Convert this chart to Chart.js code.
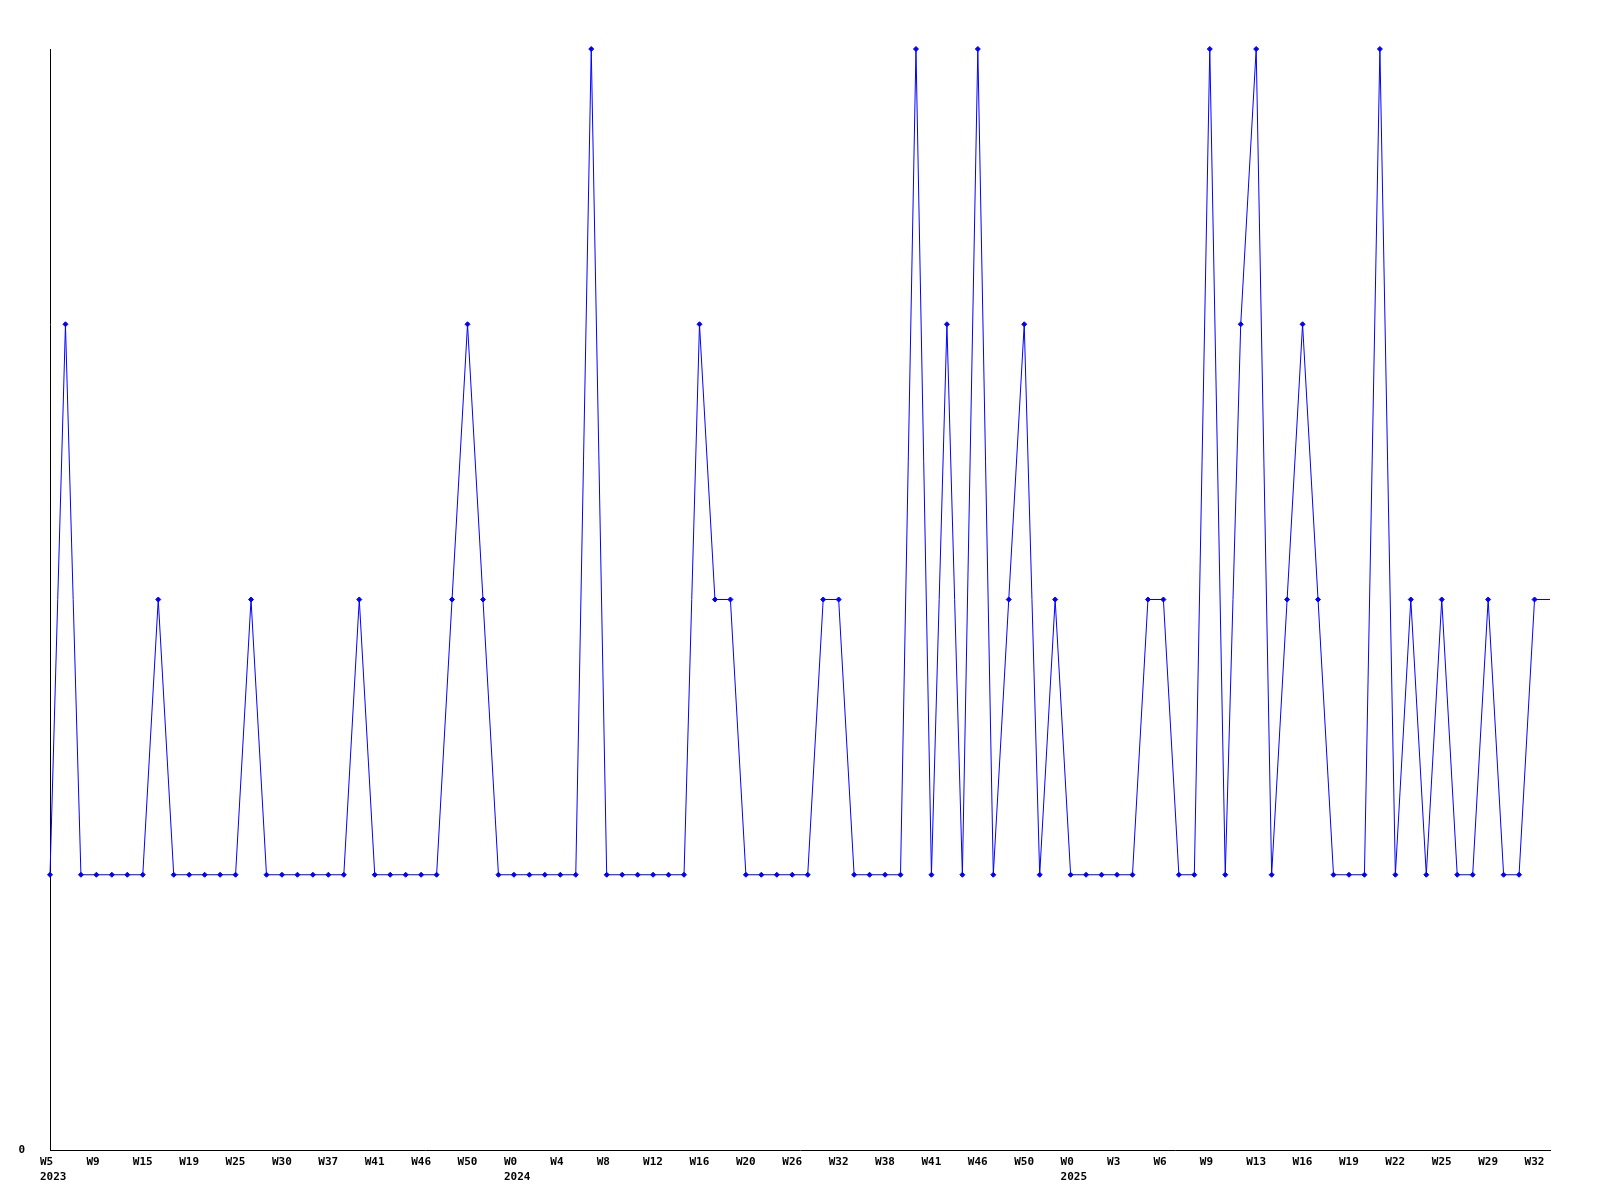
<!DOCTYPE html>
<html>
<head>
<meta charset="utf-8">
<title>Weekly count</title>
<script src="https://cdn.jsdelivr.net/npm/chart.js@4"></script>
<style>
  html, body { margin: 0; padding: 0; background: #fff; }
  #wrap { width: 1600px; height: 1200px; }
</style>
</head>
<body>
<div id="wrap"><canvas id="chart"></canvas></div>
<script>
// Tick labels, one every 3rd point
const weekTicks = ['W5', 'W9', 'W15', 'W19', 'W25', 'W30', 'W37', 'W41', 'W46', 'W50',
                   'W0', 'W4', 'W8', 'W12', 'W16', 'W20', 'W26', 'W32', 'W38', 'W41',
                   'W46', 'W50', 'W0', 'W3', 'W6', 'W9', 'W13', 'W16', 'W19', 'W22',
                   'W25', 'W29', 'W32'];
// Year shown under the tick where it starts (index in weekTicks)
const yearTicks = { 0: '2023', 10: '2024', 22: '2025' };
const tickEvery = 3;

// Values, one per point
const counts = [1, 3, 1, 1, 1, 1, 1, 2, 1, 1,
                1, 1, 1, 2, 1, 1, 1, 1, 1, 1,
                2, 1, 1, 1, 1, 1, 2, 3, 2, 1,
                1, 1, 1, 1, 1, 4, 1, 1, 1, 1,
                1, 1, 3, 2, 2, 1, 1, 1, 1, 1,
                2, 2, 1, 1, 1, 1, 4, 1, 3, 1,
                4, 1, 2, 3, 1, 2, 1, 1, 1, 1,
                1, 2, 2, 1, 1, 4, 1, 3, 4, 1,
                2, 3, 2, 1, 1, 1, 4, 1, 2, 1,
                2, 1, 1, 2, 1, 1, 2, 2];

// category labels: week label every 3rd point, blank otherwise
const categories = counts.map((_, i) => {
    if (i % tickEvery !== 0) return '';
    const k = i / tickEvery;
    if (k >= weekTicks.length) return '';
    return yearTicks[k] ? [weekTicks[k], yearTicks[k]] : weekTicks[k];
});

// last point trails off the edge without a marker
const radii = counts.map((_, i) => i === counts.length - 1 ? 0 : 2.5);

const tickFont = { family: '"DejaVu Sans Mono", monospace', size: 11, weight: 'bold', lineHeight: 1.4 };

new Chart(document.getElementById('chart'), {
    type: 'line',
    data: {
        labels: categories,
        datasets: [{
            data: counts,
            borderColor: '#0000ff',
            backgroundColor: '#0000ff',
            pointBorderColor: '#0000ff',
            borderWidth: 1,
            tension: 0,
            pointStyle: 'rectRot',
            pointRadius: radii,
            pointBorderWidth: 1,
            clip: false,
            fill: false
        }]
    },
    options: {
        responsive: true,
        maintainAspectRatio: false,
        animation: false,
        layout: { padding: { top: 49, right: 50, bottom: 0, left: 0 } },
        plugins: { legend: { display: false }, tooltip: { enabled: false } },
        scales: {
            x: {
                grid: { display: false, drawTicks: false },
                border: { display: true, color: '#000', width: 1 },
                ticks: {
                    autoSkip: false,
                    maxRotation: 0,
                    minRotation: 0,
                    align: 'start',
                    labelOffset: -10,
                    padding: 4,
                    color: '#000',
                    font: tickFont
                },
                afterFit: (s) => { s.height = 50; }
            },
            y: {
                min: 0,
                max: 4,
                grid: { display: false, drawTicks: false },
                border: { display: true, color: '#000', width: 1 },
                ticks: {
                    stepSize: 1,
                    padding: 25,
                    color: '#000',
                    font: tickFont,
                    callback: (v) => v === 0 ? '0' : ''
                },
                afterFit: (s) => { s.width = 50; }
            }
        }
    }
});
</script>
</body>
</html>
